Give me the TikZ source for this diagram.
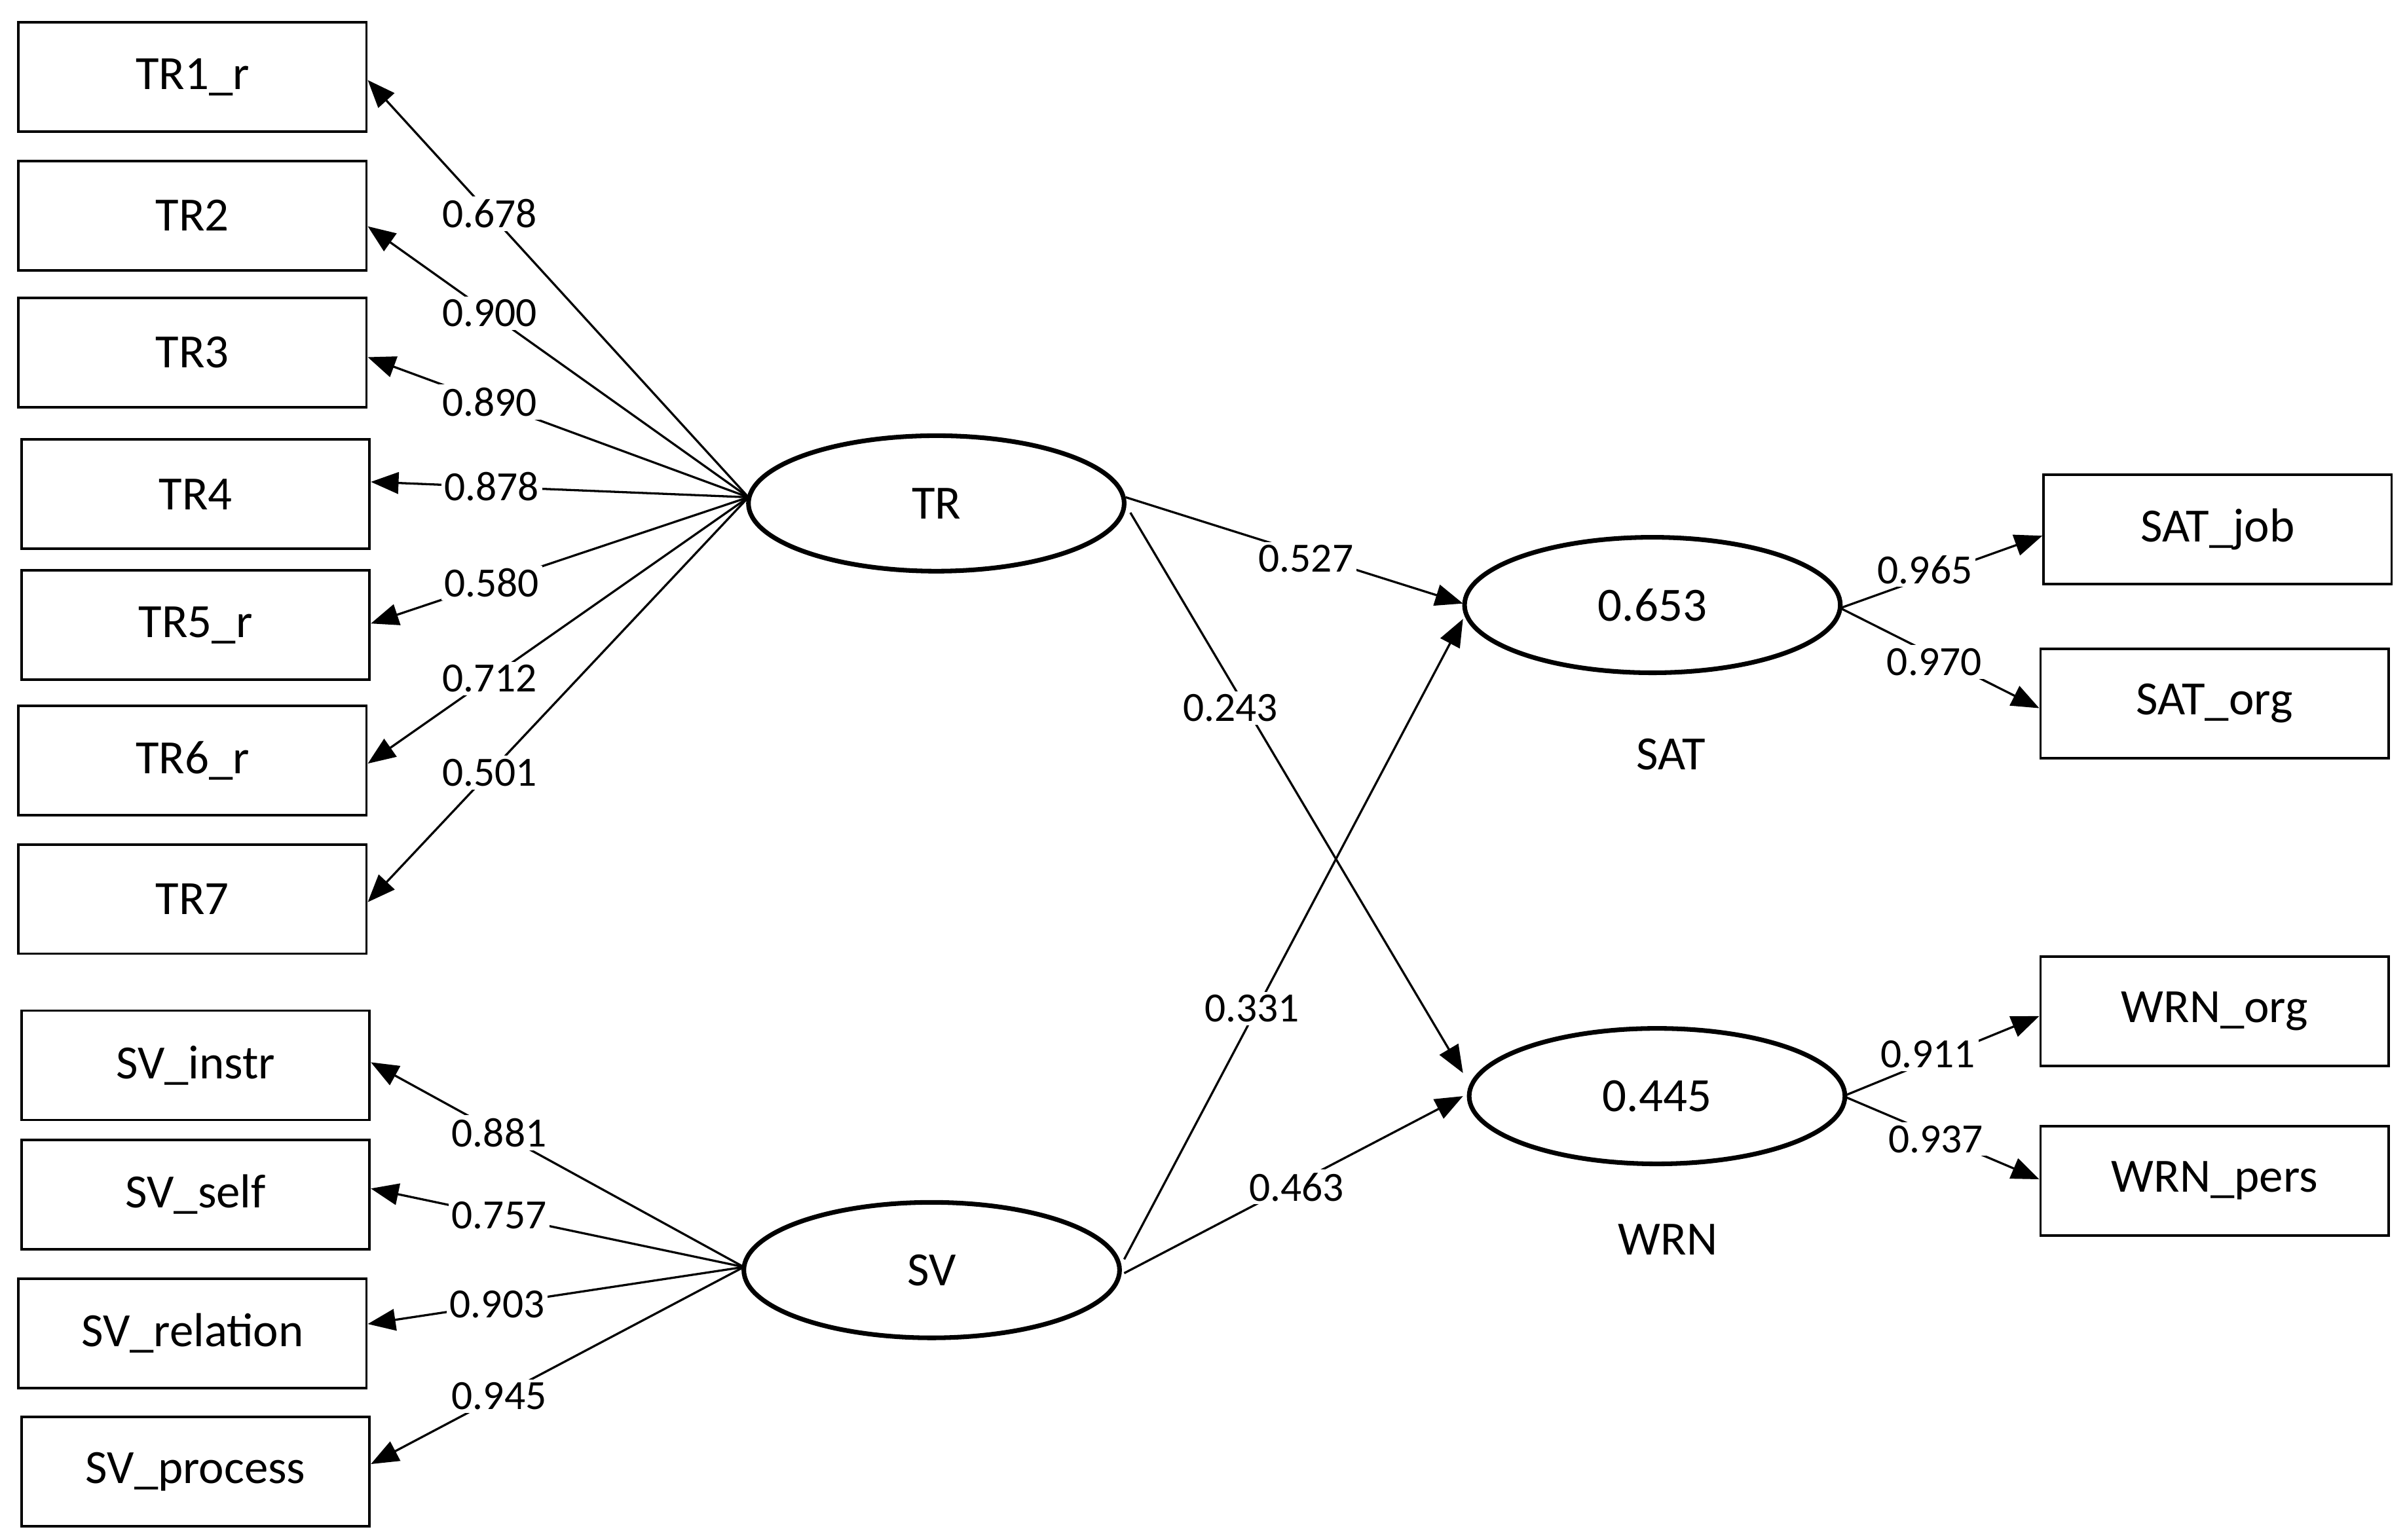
\documentclass[tikz,border=0pt]{standalone}
\usepackage{fontspec}
\setmainfont{Carlito}
\usetikzlibrary{arrows.meta,shapes.geometric}
\begin{document}
\begin{tikzpicture}[x=0.5pt,y=-0.5pt,
  box/.style={draw,line width=0.8pt,minimum width=113pt,minimum height=35.5pt,inner sep=0pt,font=\fontsize{15.5}{18}\selectfont},
  lat/.style={draw,ellipse,line width=1.5pt,minimum width=122pt,minimum height=44pt,inner sep=0pt,font=\fontsize{15.5}{18}\selectfont},
  arr/.style={line width=0.7pt,-{Triangle[length=9pt,width=7pt]}},
  lab/.style={fill=white,inner sep=1pt,font=\fontsize{13.5}{16}\selectfont}]
\useasboundingbox (0,0) rectangle (1563,1000);
\node[box] (tr1) at (125,50) {TR1\_r};
\node[box] (tr2) at (125,140) {TR2};
\node[box] (tr3) at (125,229) {TR3};
\node[box] (tr4) at (127,321) {TR4};
\node[box] (tr5) at (127,406) {TR5\_r};
\node[box] (tr6) at (125,494) {TR6\_r};
\node[box] (tr7) at (125,584) {TR7};
\node[box] (sv1) at (127,692) {SV\_instr};
\node[box] (sv2) at (127,776) {SV\_self};
\node[box] (sv3) at (125,866) {SV\_relation};
\node[box] (sv4) at (127,956) {SV\_process};
\node[box] (sj) at (1440,344) {SAT\_job};
\node[box] (so) at (1438,457) {SAT\_org};
\node[box] (wo) at (1438,657) {WRN\_org};
\node[box] (wp) at (1438,767) {WRN\_pers};
\node[lat] (TR) at (608,327) {TR};
\node[lat] (SV) at (605,825) {SV};
\node[lat] (SAT) at (1073,393) {0.653};
\node[lat] (WRN) at (1076,712) {0.445};
\node[font=\fontsize{15.5}{18}\selectfont] (satl) at (1085,490) {SAT};
\node[font=\fontsize{15.5}{18}\selectfont] (wrnl) at (1083,805) {WRN};
\coordinate (to) at (486,323);
\coordinate (so0) at (483,823);
\foreach \n/\y/\v in {tr1/52/0.678,tr2/147/0.900,tr3/232/0.890,tr4/313/0.878,tr5/405/0.580,tr6/496/0.712,tr7/586/0.501}
  \draw[arr] (to) -- node[lab,pos=0.68]{\v} (\n.east |- 0,\y);
\foreach \n/\y/\v in {sv1/690/0.881,sv2/772/0.757,sv3/860/0.903,sv4/951/0.945}
  \draw[arr] (so0) -- node[lab,pos=0.656]{\v} (\n.east |- 0,\y);
\coordinate (a1) at (731,323); \coordinate (a2) at (734,333);
\coordinate (b1) at (730,818); \coordinate (b2) at (730,827);
\coordinate (s1) at (950,392); \coordinate (s2) at (950,402);
\coordinate (w1) at (950,697); \coordinate (w2) at (950,712);
\draw[arr] (a1) -- (s1); \node[lab] (l1) at (848,363) {0.527};
\draw[arr] (a2) -- (w1); \node[lab] (l2) at (799,460) {0.243};
\draw[arr] (b1) -- (s2); \node[lab] (l3) at (813,655) {0.331};
\draw[arr] (b2) -- (w2); \node[lab] (l4) at (842,771) {0.463};
\coordinate (sr) at (1195,395); \coordinate (wr) at (1197,712);
\draw[arr] (sr) -- (sj.west |- 0,348); \node[lab] (l5) at (1250,370) {0.965};
\draw[arr] (sr) -- (so.west |- 0,460); \node[lab] (l6) at (1256,430) {0.970};
\draw[arr] (wr) -- (wo.west |- 0,660); \node[lab] (l7) at (1252,685) {0.911};
\draw[arr] (wr) -- (wp.west |- 0,766); \node[lab] (l8) at (1257,740) {0.937};
\end{tikzpicture}
\end{document}
